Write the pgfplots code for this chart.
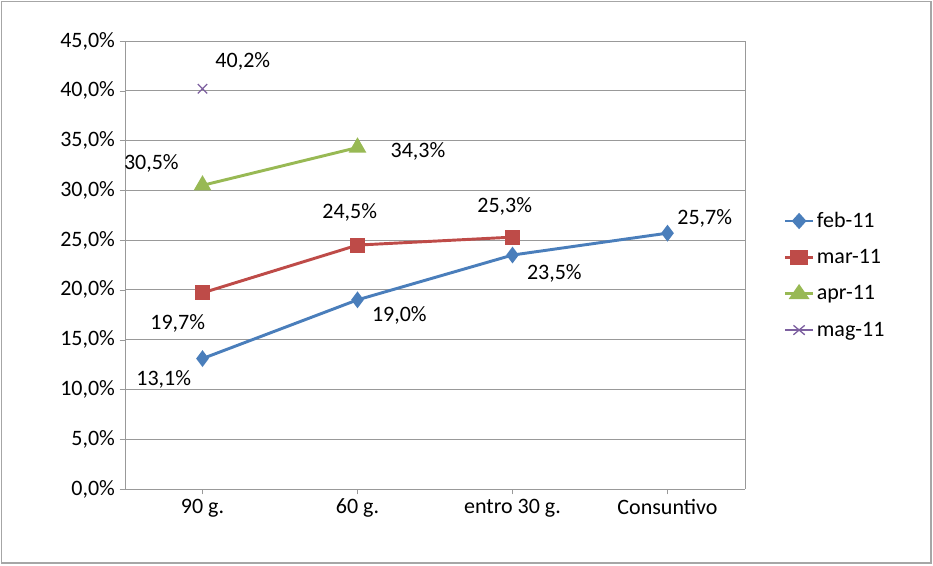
\documentclass[border=0pt]{standalone}
\usepackage{pgfplots}
\pgfplotsset{compat=1.18}
\usepackage{fontspec}
\setmainfont{Carlito}
\definecolor{cb}{HTML}{4A7EBB}
\definecolor{cr}{HTML}{BE4B48}
\definecolor{cg}{HTML}{98B954}
\definecolor{cp}{HTML}{7D60A0}
\begin{document}
\begin{tikzpicture}
\draw[gray!70, line width=0.8pt] (-92.5pt,-55.5pt) rectangle (604.5pt,365.5pt);
\useasboundingbox (-93.75pt,-57pt) rectangle (606pt,366.75pt);
\begin{axis}[scale only axis, width=465pt, height=336pt, at={(0,0)}, anchor=south west,
  xmin=-0.5, xmax=3.5, ymin=0, ymax=45,
  xtick={0,1,2,3}, xticklabels={90 g.,60 g.,entro 30 g.,Consuntivo},
  ytick={0,5,...,45}, yticklabel={\pgfmathprintnumber[fixed,fixed zerofill,precision=1,use comma]{\tick}\%},
  /pgf/number format/assume math mode=true,
  ymajorgrids, major grid style={gray!80, line width=0.6pt},
  axis line style={gray!80}, tick style={gray!80}, major tick length=4pt,
  tick align=outside, xtick pos=bottom, ytick pos=left,
  axis x line*=bottom, axis y line*=left,
  tick label style={font=\fontsize{16.5}{18}\selectfont, black},
  legend style={at={(1.056,0.63)}, anchor=north west, draw=none, fill=none,
    font=\fontsize{16.5}{18}\selectfont, row sep=11pt},
  legend image post style={xscale=1.2},
  legend cell align=left,
  clip=false]
\draw[gray!80, line width=0.6pt] (rel axis cs:1,0) -- (rel axis cs:1,1);
\addplot[cb, line width=2.2pt, mark=diamond*, mark size=4.5pt] coordinates {(0,13.1)(1,19.0)(2,23.5)(3,25.7)};
\addlegendentry{feb-11}
\addplot[cr, line width=2.2pt, mark=square*, mark size=4.5pt] coordinates {(0,19.7)(1,24.5)(2,25.3)};
\addlegendentry{mar-11}
\addplot[cg, line width=2.2pt, mark=triangle*, mark size=5.5pt] coordinates {(0,30.5)(1,34.3)};
\addlegendentry{apr-11}
\addplot[cp, line width=1pt, mark=x, mark size=5pt] coordinates {(0,40.2)};
\addlegendentry{mag-11}
\begin{scope}[font=\fontsize{16.5}{18}\selectfont]
\node at (axis cs:-0.25,11.0) {13,1\%};
\node at (axis cs:1.27,17.4) {19,0\%};
\node at (axis cs:2.27,21.7) {23,5\%};
\node at (axis cs:3.24,27.2) {25,7\%};
\node at (axis cs:-0.16,16.6) {19,7\%};
\node at (axis cs:0.95,27.8) {24,5\%};
\node at (axis cs:1.95,28.4) {25,3\%};
\node at (axis cs:-0.33,32.7) {30,5\%};
\node at (axis cs:1.39,33.9) {34,3\%};
\node at (axis cs:0.26,43.0) {40,2\%};
\end{scope}
\end{axis}
\end{tikzpicture}
\end{document}
